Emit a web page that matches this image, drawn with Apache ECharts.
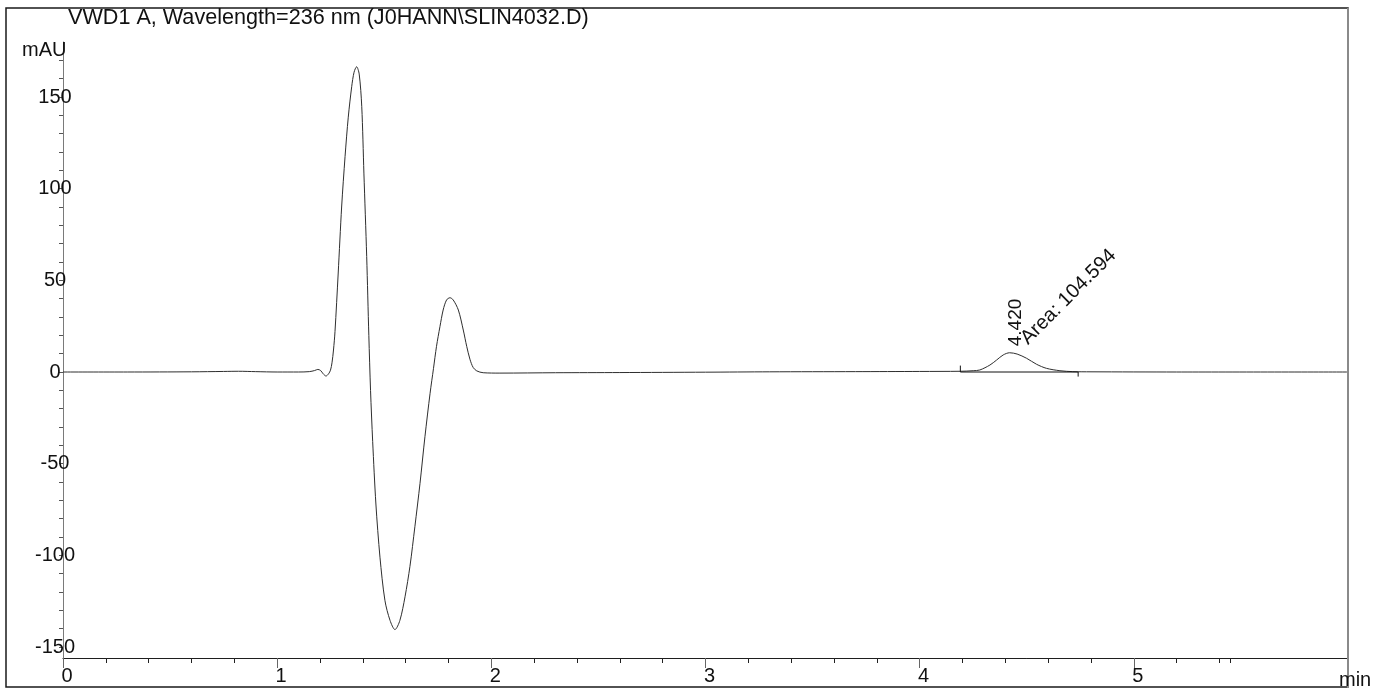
<!DOCTYPE html>
<html>
<head>
<meta charset="utf-8">
<script src="https://cdn.jsdelivr.net/npm/echarts@6/dist/echarts.min.js"></script>
<style>
html, body { margin: 0; padding: 0; background: #fff; }
#chart { width: 1386px; height: 691px; }
</style>
</head>
<body>
<div id="chart"></div>
<script>
// VWD1 A detector trace at 236 nm: retention time (min) and absorbance (mAU)
const timeMin = [
  0.00, 0.30, 0.60, 0.75, 0.82, 0.90, 1.00, 1.10, 1.15, 1.175,
  1.190, 1.203, 1.215, 1.228, 1.240, 1.249, 1.256, 1.263, 1.270, 1.285,
  1.301, 1.317, 1.332, 1.348, 1.359, 1.371, 1.383, 1.395, 1.405, 1.418,
  1.428, 1.436, 1.446, 1.461, 1.480, 1.503, 1.527, 1.550, 1.573, 1.597,
  1.620, 1.643, 1.667, 1.690, 1.714, 1.730, 1.744, 1.760, 1.775, 1.791,
  1.807, 1.822, 1.846, 1.869, 1.885, 1.900, 1.915, 1.932, 1.962, 2.04,
  2.30, 2.60, 3.00, 3.30, 3.70, 4.00, 4.19, 4.25, 4.281, 4.328,
  4.359, 4.390, 4.420, 4.455, 4.499, 4.546, 4.592, 4.655, 4.715, 4.80,
  5.20, 6.00
];
const signalMAU = [
  0.0, 0.0, 0.1, 0.3, 0.4, 0.2, 0.0, 0.0, 0.2, 0.8,
  1.4, 0.8, -1.0, -2.2, -1.0, 1.0, 5, 12, 22, 54,
  90, 117.5, 139, 155.6, 163.5, 166.5, 162.5, 144.7, 108.5, 63,
  20, -10, -38, -72, -101, -124.5, -135.5, -140.5, -135.5, -122.6,
  -106, -84.4, -60.7, -35.3, -11.6, 2, 14, 24.7, 33.8, 39.3,
  40.5, 39.3, 33.8, 22.9, 14, 7, 2.5, 0.6, -0.4, -0.6,
  -0.4, -0.3, -0.1, 0.1, 0.2, 0.3, 0.4, 0.7, 1.1, 3.8,
  6.5, 9.3, 10.5, 9.8, 7.5, 4.2, 2.0, 0.7, 0.2, 0.1,
  0.0, 0.0
];

// Integrated peak
const peakTime = 4.420;
const peakHeight = 10.5;
const peakArea = 104.594;
const integrationStart = 4.19;
const integrationEnd = 4.74;

// Axis ticks and labels
const xLabelValues = [0, 1, 2, 3, 4, 5];
const xMinorTickValues = [
  0.2, 0.4, 0.6, 0.8, 1.2, 1.4, 1.6, 1.8, 2.2, 2.4, 2.6, 2.8,
  3.2, 3.4, 3.6, 3.8, 4.2, 4.4, 4.6, 4.8, 5.2, 5.4, 5.45
];
const yLabelValues = [-150, -100, -50, 0, 50, 100, 150];
const yTickValues = [
  -150, -140, -130, -120, -110, -100, -90, -80, -70, -60, -50, -40, -30, -20, -10,
  0, 10, 20, 30, 40, 50, 60, 70, 80, 90, 100, 110, 120, 130, 140, 150, 160, 170
];

const titleText = 'VWD1 A, Wavelength=236 nm (J0HANN\\SLIN4032.D)';
const yUnit = 'mAU';
const xUnit = 'min';

const FONT = '"Liberation Sans", Arial, sans-serif';

const chart = echarts.init(document.getElementById('chart'), null, { renderer: 'canvas' });

chart.setOption({
  animation: false,
  backgroundColor: '#ffffff',
  grid: { left: 63, right: 38, top: 42, bottom: 33, containLabel: false },
  xAxis: [
    {
      type: 'value', min: 0, max: 6, position: 'bottom',
      axisLine: { show: true, onZero: false, lineStyle: { color: '#1e1e1e', width: 1 } },
      axisTick: { show: true, customValues: xLabelValues, length: 10, lineStyle: { color: '#666', width: 1 } },
      axisLabel: {
        show: true, customValues: xLabelValues, fontSize: 20, fontFamily: FONT, color: '#111',
        margin: 8, padding: [0, 0, 0, 8]
      },
      splitLine: { show: false }
    },
    {
      type: 'value', min: 0, max: 6, position: 'bottom',
      axisLine: { show: false, onZero: false },
      axisTick: { show: true, customValues: xMinorTickValues, length: 5, lineStyle: { color: '#222', width: 1 } },
      axisLabel: { show: false },
      splitLine: { show: false }
    }
  ],
  yAxis: {
    type: 'value', min: -156, max: 180,
    axisLine: { show: true, onZero: false, lineStyle: { color: '#7a7a7a', width: 1 } },
    axisTick: { show: true, customValues: yTickValues, length: 4, lineStyle: { color: '#555', width: 1 } },
    axisLabel: {
      show: true, customValues: yLabelValues, fontSize: 20, fontFamily: FONT, color: '#111',
      align: 'center', margin: 8
    },
    splitLine: { show: false }
  },
  series: [
    {
      type: 'line',
      xAxisIndex: 0,
      data: timeMin.map((t, i) => [t, signalMAU[i]]),
      showSymbol: false,
      smooth: 0.3,
      silent: true,
      lineStyle: { color: '#2e2e2e', width: 1 },
      markPoint: {
        symbol: 'circle', symbolSize: 1, silent: true,
        itemStyle: { color: 'rgba(0,0,0,0)' },
        data: [
          {
            coord: [peakTime, peakHeight], value: peakTime,
            label: {
              show: true, formatter: peakTime.toFixed(3), rotate: 90,
              position: [7, -6], align: 'left', verticalAlign: 'middle',
              fontSize: 19, fontFamily: FONT, color: '#111'
            }
          },
          {
            coord: [peakTime, peakHeight], value: peakArea,
            label: {
              show: true, formatter: 'Area: ' + peakArea.toFixed(3), rotate: 45,
              position: [15, -11], align: 'left', verticalAlign: 'middle',
              fontSize: 20, fontFamily: FONT, color: '#111'
            }
          }
        ]
      }
    },
    {
      // integration baseline with start/end markers
      type: 'line',
      xAxisIndex: 0,
      data: [[integrationStart, 3.5], [integrationStart, 0], [integrationEnd, 0], [integrationEnd, -2.5]],
      showSymbol: false,
      silent: true,
      lineStyle: { color: '#111', width: 1 }
    }
  ],
  graphic: [
    {
      type: 'rect', silent: true, z: 10,
      shape: { x: 6, y: 8, width: 1342, height: 679 },
      style: { fill: 'none', stroke: '#1a1a1a', lineWidth: 1.5 }
    },
    {
      type: 'line', silent: true, z: 11,
      shape: { x1: 1348, y1: 8, x2: 1348, y2: 688 },
      style: { stroke: '#8a8a8a', lineWidth: 2 }
    },
    {
      type: 'text', silent: true, z: 12,
      style: { x: 68, y: 18, text: titleText, font: '21.6px ' + FONT, fill: '#111', align: 'left', verticalAlign: 'middle' }
    },
    {
      type: 'text', silent: true, z: 12,
      style: { x: 22, y: 50, text: yUnit, font: '20px ' + FONT, fill: '#111', align: 'left', verticalAlign: 'middle' }
    },
    {
      type: 'text', silent: true, z: 12,
      style: { x: 1339, y: 680, text: xUnit, font: '20px ' + FONT, fill: '#111', align: 'left', verticalAlign: 'middle' }
    }
  ]
});
</script>
</body>
</html>
